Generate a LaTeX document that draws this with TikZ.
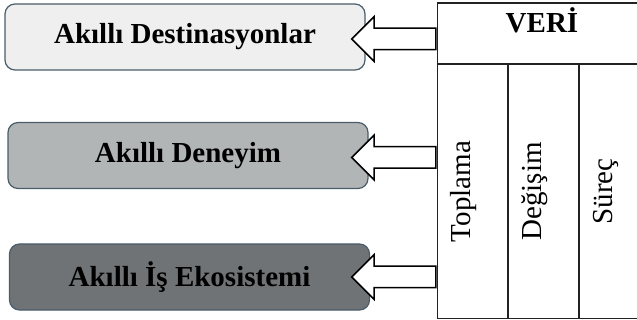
\documentclass[tikz,border=0pt]{standalone}
\usepackage{fontspec}
\setmainfont{Liberation Serif}
\usetikzlibrary{positioning,shapes.arrows}
\definecolor{boxedge}{HTML}{4B5D6A}
\definecolor{lightfill}{HTML}{EFEFEF}
\definecolor{midfill}{HTML}{B2B5B5}
\definecolor{darkfill}{HTML}{707375}
\definecolor{gridline}{HTML}{222222}

\begin{document}
\begin{tikzpicture}[x=1pt,y=-1pt,
    goal/.style={draw=boxedge,line width=1.2pt,rounded corners=10pt,minimum width=360pt,minimum height=66pt,inner sep=0pt,font=\fontsize{29}{34}\selectfont\bfseries},
    cell/.style={draw=gridline,line width=1pt,inner sep=0pt,minimum width=70pt,minimum height=253pt},
    coltext/.style={rotate=90,inner sep=0pt,font=\fontsize{29}{34}\selectfont},
    flow/.style={single arrow,shape border rotate=180,draw=black,fill=white,line width=1.5pt,minimum height=84pt,minimum width=43pt,inner sep=10pt,single arrow head extend=11.5pt,anchor=tail}]
    \clip (0,0) rectangle (637,320);

    % goal boxes
    \node[goal,fill=lightfill] (g1) at (185,37) {Akıllı Destinasyonlar};
    \node[goal,fill=midfill] (g2) at (188,155.5) {Akıllı Deneyim};
    \node[goal,fill=darkfill] (g3) at (189.5,277) {Akıllı İş Ekosistemi};

    % data table
    \node[draw=gridline,line width=1pt,minimum width=210pt,minimum height=60pt,inner sep=0pt] (hdr) at (542,34) {};
    \draw[gridline,line width=2pt] (hdr.north west) -- (hdr.north east);
    \node[font=\fontsize{29}{34}\selectfont\bfseries,anchor=base] (veri) at (542,33) {VERİ};
    \node[cell,anchor=north west] (col1) at (hdr.south west) {};
    \node[cell,right=0pt of col1] (col2) {};
    \node[cell,right=0pt of col2] (col3) {};
    \node[coltext] (toplama) at ([xshift=-8pt]col1.center) {Toplama};
    \node[coltext] (degisim) at ([xshift=-8pt]col2.center) {Değişim};
    \node[coltext] (surec) at ([xshift=-8pt]col3.center) {Süreç};

    % block arrows
    \node[flow] (a1) at ([yshift=-2pt]hdr.west |- g1.east) {};
    \node[flow] (a2) at ([yshift=-2pt]hdr.west |- g2.east) {};
    \node[flow] (a3) at (hdr.west |- g3.east) {};
\end{tikzpicture}
\end{document}
